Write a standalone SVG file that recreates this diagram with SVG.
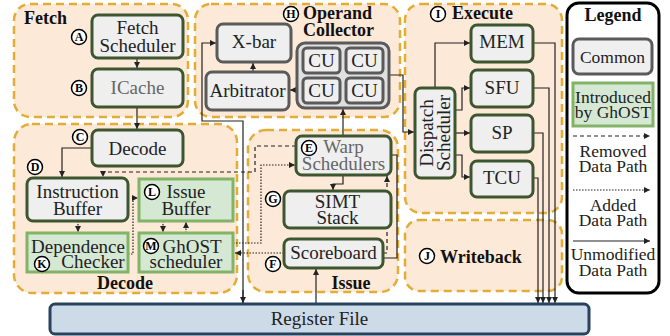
<svg xmlns="http://www.w3.org/2000/svg" width="670" height="336" viewBox="0 0 670 336">
<defs>
<marker id="ah" markerUnits="userSpaceOnUse" markerWidth="7" markerHeight="7" refX="6" refY="3" orient="auto"><path d="M0,0 L6,3 L0,6 z" fill="#222"/></marker>
<style>
.reg{fill:#fde9d7;stroke:#e3ac35;stroke-width:2.5;stroke-dasharray:8 5}
.nd{fill:#efefef;stroke:#3e5630;stroke-width:3}
.gr{fill:#efefef;stroke:#5a5a5a;stroke-width:3}
.gn{fill:#d5e8d4;stroke:#82b366;stroke-width:3}
.t{font-family:"Liberation Serif",serif;font-size:19px;fill:#222;text-anchor:middle}
.tg{fill:#666}
.tb{font-family:"Liberation Serif",serif;font-size:18px;font-weight:bold;fill:#111}
.lt{font-family:"Liberation Serif",serif;font-size:17.5px;fill:#222;text-anchor:middle}
.c circle{fill:#fff;stroke:#000;stroke-width:1.5}
.c text{font-family:"Liberation Serif",serif;font-size:12px;font-weight:bold;text-anchor:middle;fill:#000}
.s{fill:none;stroke:#222;stroke-width:1.2}
.d{fill:none;stroke:#222;stroke-width:1.2;stroke-dasharray:4 3}
.o{fill:none;stroke:#222;stroke-width:1.2;stroke-dasharray:1.5 1.5}
</style>
</defs>
<g id="regions">
<rect id="fetch-region" class="reg" x="14" y="4" width="174" height="113" rx="16"/>
<rect id="decode-region" class="reg" x="14" y="124" width="223" height="169" rx="18"/>
<rect id="opcoll-region" class="reg" x="195" y="4" width="205" height="113" rx="16"/>
<rect id="issue-region" class="reg" x="248" y="130" width="150" height="162" rx="18"/>
<rect id="execute-region" class="reg" x="405" y="4" width="157" height="209" rx="16"/>
<rect id="writeback-region" class="reg" x="405" y="220" width="157" height="71" rx="14"/>
<text class="tb" x="24" y="24">Fetch</text>
<text class="tb" x="125" y="289" text-anchor="middle">Decode</text>
<text class="tb" x="303" y="19">Operand</text>
<text class="tb" x="303" y="36">Collector</text>
<text class="tb" x="351" y="289" text-anchor="middle">Issue</text>
<text class="tb" x="452" y="19">Execute</text>
<text class="tb" x="440" y="263">Writeback</text>
</g>
<g id="connectors">
<path class="s" d="M137,58 V68" marker-end="url(#ah)"/>
<path class="s" d="M137,107 V129" marker-end="url(#ah)"/>
<path class="s" d="M92,148 H62 V177" marker-end="url(#ah)"/>
<path class="d" d="M296,146 H255 V172 H103 V177" marker-end="url(#ah)"/>
<path class="o" d="M128,254 H133 V198 H138" marker-end="url(#ah)"/>
<path class="o" d="M78,221 V232" marker-end="url(#ah)"/>
<path class="o" d="M163,221 V232" marker-end="url(#ah)"/>
<path class="o" d="M186,233 V222" marker-end="url(#ah)"/>
<path class="o" d="M284,253 H235" marker-end="url(#ah)"/>
<path class="o" d="M233,243 H261 V165 H295" marker-end="url(#ah)"/>
<path class="d" d="M383,253 H387 V176" marker-end="url(#ah)"/>
<path class="s" d="M391,155 H397 V258 H383"/>
<path class="s" d="M343,175 V184 H333 V190" marker-end="url(#ah)"/>
<path class="s" d="M343,136 V109" marker-end="url(#ah)"/>
<path class="s" d="M297,90 H290" marker-end="url(#ah)"/>
<path class="s" d="M253,72 V63" marker-end="url(#ah)"/>
<path class="s" d="M389,75 H403 V132 H414" marker-end="url(#ah)"/>
<path class="s" d="M243,303 V121 H202 V43 H216" marker-end="url(#ah)"/>
<path class="s" d="M243,290 V303" marker-end="url(#ah)"/>
<path class="s" d="M316,304 V269" marker-end="url(#ah)"/>
<path class="s" d="M533,43 H555 V303" marker-end="url(#ah)"/>
<path class="s" d="M533,88 H549 V303" marker-end="url(#ah)"/>
<path class="s" d="M533,133 H543 V303" marker-end="url(#ah)"/>
<path class="s" d="M533,178 H538 V303" marker-end="url(#ah)"/>
<path class="s" d="M435,88 V43 H470" marker-end="url(#ah)"/>
<path class="s" d="M455,110 H462 V88 H470" marker-end="url(#ah)"/>
<path class="s" d="M455,133 H470" marker-end="url(#ah)"/>
<path class="s" d="M455,155 H462 V177 H470" marker-end="url(#ah)"/>
</g>
<g id="fetch-scheduler"><rect class="nd" x="92" y="15" width="91" height="43" rx="6"/><text class="t" x="137.5" y="34">Fetch</text><text class="t" x="137.5" y="52">Scheduler</text></g>
<g id="icache"><rect class="nd" x="92" y="69" width="91" height="38" rx="6"/><text class="t tg" x="137.5" y="94">ICache</text></g>
<g id="decode"><rect class="nd" x="92" y="130" width="91" height="36" rx="6"/><text class="t" x="137.5" y="155">Decode</text></g>
<g id="instruction-buffer"><rect class="nd" x="27" y="178" width="101" height="43" rx="6"/><text class="t" x="77.5" y="198">Instruction</text><text class="t" x="77.5" y="215">Buffer</text></g>
<g id="issue-buffer"><rect class="gn" x="139" y="179" width="94" height="42"/><text class="t" x="186" y="198">Issue</text><text class="t" x="186" y="215">Buffer</text></g>
<g id="dependence-checker"><rect class="gn" x="27" y="233" width="101" height="39"/><text class="t" x="78" y="253">Dependence</text><text class="t" x="93" y="268">Checker</text></g>
<g id="ghost-scheduler"><rect class="gn" x="139" y="233" width="94" height="39"/><text class="t" x="192" y="253">GhOST</text><text class="t" x="186" y="268">scheduler</text></g>
<g id="xbar"><rect class="gr" x="217" y="24" width="74" height="38" rx="6"/><text class="t" x="254" y="48">X-bar</text></g>
<g id="arbitrator"><rect class="gr" x="206" y="72" width="83" height="38" rx="6"/><text class="t" x="247.5" y="97">Arbitrator</text></g>
<g id="cu-cluster"><rect x="297" y="43" width="92" height="65" rx="8" fill="#e0e0e0" stroke="#5a5a5a" stroke-width="3"/>
<rect class="gr" x="303" y="48" width="37" height="25" rx="4"/><text class="t" x="321.5" y="67">CU</text>
<rect class="gr" x="346" y="48" width="37" height="25" rx="4"/><text class="t" x="364.5" y="67">CU</text>
<rect class="gr" x="303" y="78" width="37" height="25" rx="4"/><text class="t" x="321.5" y="97">CU</text>
<rect class="gr" x="346" y="78" width="37" height="25" rx="4"/><text class="t" x="364.5" y="97">CU</text></g>
<g id="warp-schedulers"><rect class="nd" x="296" y="136" width="95" height="39" rx="6"/><text class="t tg" x="343.5" y="153">Warp</text><text class="t tg" x="343.5" y="170">Schedulers</text></g>
<g id="simt-stack"><rect class="nd" x="284" y="191" width="107" height="37" rx="6"/><text class="t" x="337.5" y="208">SIMT</text><text class="t" x="337.5" y="224">Stack</text></g>
<g id="scoreboard"><rect class="nd" x="284" y="239" width="99" height="29" rx="6"/><text class="t" x="333.5" y="259">Scoreboard</text></g>
<g id="dispatch-scheduler"><rect class="nd" x="415" y="88" width="40" height="90" rx="6"/><text class="t" transform="translate(433,133) rotate(-90)">Dispatch</text><text class="t" transform="translate(450,133) rotate(-90)">Scheduler</text></g>
<g id="mem"><rect class="nd" x="471" y="25" width="62" height="37" rx="6"/><text class="t" x="502" y="48">MEM</text></g>
<g id="sfu"><rect class="nd" x="471" y="70" width="62" height="37" rx="6"/><text class="t" x="502" y="94">SFU</text></g>
<g id="sp"><rect class="nd" x="471" y="115" width="62" height="37" rx="6"/><text class="t" x="502" y="139">SP</text></g>
<g id="tcu"><rect class="nd" x="471" y="161" width="62" height="36" rx="6"/><text class="t" x="502" y="184">TCU</text></g>
<g id="register-file"><rect x="50" y="304" width="539" height="30" rx="5" fill="#cddbe8" stroke="#29435e" stroke-width="3"/><text class="t" x="319.5" y="325">Register File</text></g>
<g id="labels" class="c">
<circle cx="79" cy="37" r="7.5"/><text x="79" y="41">A</text>
<circle cx="79" cy="88" r="7.5"/><text x="79" y="92">B</text>
<circle cx="80" cy="137" r="7.5"/><text x="80" y="141">C</text>
<circle cx="35" cy="167" r="7.5"/><text x="35" y="171">D</text>
<circle cx="152" cy="192" r="7.5"/><text x="152" y="196">L</text>
<circle cx="42" cy="264" r="7.5"/><text x="42" y="268">K</text>
<circle cx="151" cy="246" r="7.5"/><text x="151" y="250">M</text>
<circle cx="291" cy="14" r="7.5"/><text x="291" y="18">H</text>
<circle cx="309" cy="148" r="7.5"/><text x="309" y="152">E</text>
<circle cx="273" cy="199" r="7.5"/><text x="273" y="203">G</text>
<circle cx="273" cy="264" r="7.5"/><text x="273" y="268">F</text>
<circle cx="438" cy="14" r="7.5"/><text x="438" y="18">I</text>
<circle cx="427" cy="256" r="7.5"/><text x="427" y="260">J</text>
</g>
<g id="legend">
<rect x="567" y="3" width="92" height="290" rx="12" fill="#fff" stroke="#000" stroke-width="3"/>
<text class="tb" x="613" y="21" text-anchor="middle">Legend</text>
<rect class="gr" x="573" y="39" width="79" height="35" rx="6"/><text class="lt" x="612.5" y="63" fill="#444">Common</text>
<rect class="gn" x="573" y="83" width="80" height="43"/><text class="lt" x="613" y="103">Introduced</text><text class="lt" x="613" y="118">by GhOST</text>
<path class="d" d="M573,136 H650" marker-end="url(#ah)"/>
<text class="lt" x="613" y="157">Removed</text><text class="lt" x="613" y="172">Data Path</text>
<path class="o" d="M573,190 H650" marker-end="url(#ah)"/>
<text class="lt" x="613" y="211">Added</text><text class="lt" x="613" y="226">Data Path</text>
<path class="s" d="M573,241 H650" marker-end="url(#ah)"/>
<text class="lt" x="613" y="260">Unmodified</text><text class="lt" x="613" y="276">Data Path</text>
</g>
</svg>
